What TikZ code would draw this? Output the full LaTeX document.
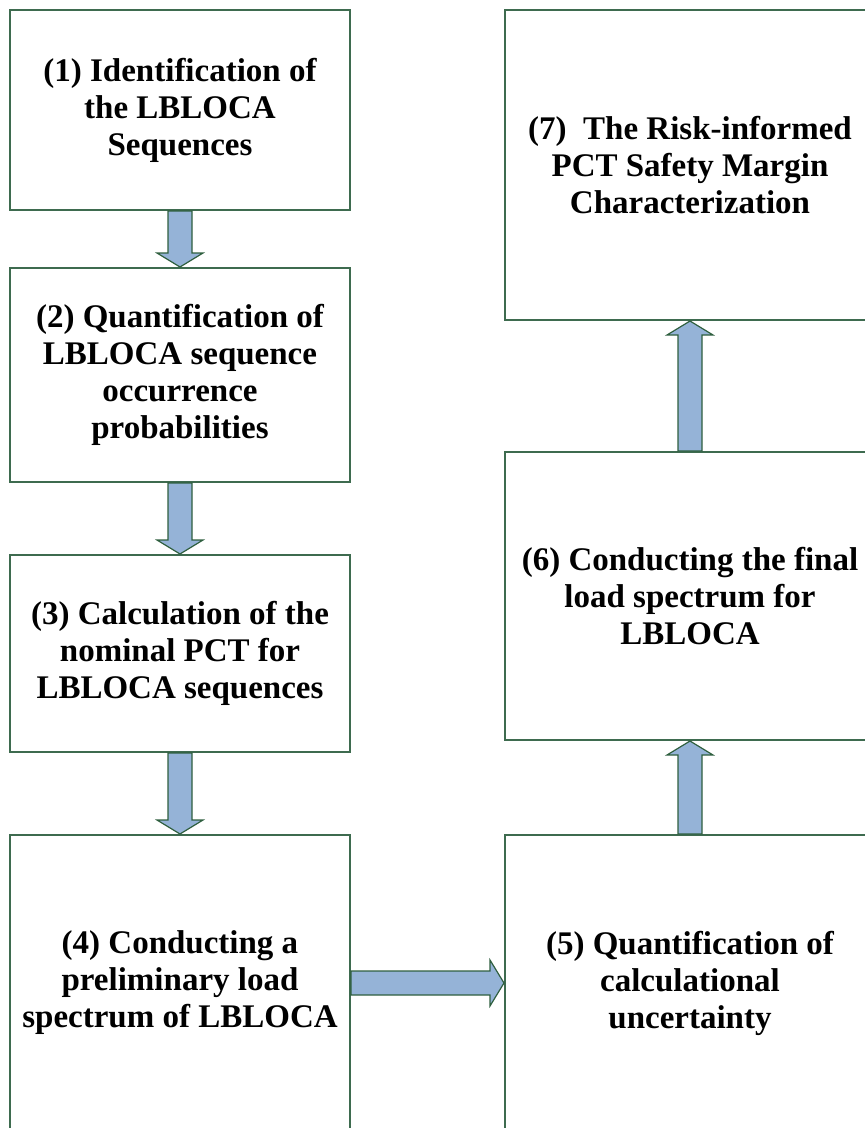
\documentclass[tikz,border=0pt]{standalone}
\usepackage{fontspec}
\setmainfont{Liberation Serif}
\usetikzlibrary{calc}
\definecolor{border}{HTML}{3E6B4F}
\definecolor{arrowfill}{HTML}{95B3D7}
\definecolor{arrowline}{HTML}{2F5F3F}
\tikzset{
  stepbox/.style={draw=border, line width=2pt, fill=white, align=center, inner sep=0pt,
    font=\fontsize{33}{37}\selectfont\bfseries},
  leftbox/.style={stepbox, minimum width=340pt},
  rightbox/.style={stepbox, minimum width=370pt},
  arrowbody/.style={draw=arrowline, fill=arrowfill, line width=1.2pt, line join=miter},
}
% block arrow from #1 to #2
\newcommand\blockarrow[2]{%
  \path (#1) coordinate (ba-s) (#2) coordinate (ba-e);
  \path ($(ba-e)!14pt!(ba-s)$) coordinate (ba-h);
  \draw[arrowbody] ($(ba-s)!12pt!90:(ba-e)$) -- ($(ba-h)!12pt!90:(ba-e)$)
    -- ($(ba-h)!23pt!90:(ba-e)$) -- (ba-e) -- ($(ba-h)!23pt!-90:(ba-e)$)
    -- ($(ba-h)!12pt!-90:(ba-e)$) -- ($(ba-s)!12pt!-90:(ba-e)$) -- cycle;
}

\begin{document}
\begin{tikzpicture}[x=1pt, y=-1pt]
\useasboundingbox (0,0) rectangle (865,1128);
\clip (0,0) rectangle (865,1128);
% left column
\node[leftbox, minimum height=200pt] (s1) at (180,110) {(1) Identification of\\the LBLOCA\\Sequences};
\node[leftbox, minimum height=214pt] (s2) at (180,375) {(2) Quantification of\\LBLOCA sequence\\occurrence\\probabilities};
\node[leftbox, minimum height=197pt] (s3) at (180,653.5) {(3) Calculation of the\\nominal PCT for\\LBLOCA sequences};
\node[leftbox, minimum height=296pt] (s4) at (180,983) {(4) Conducting a\\preliminary load\\spectrum of LBLOCA};
% right column
\node[rightbox, minimum height=296pt] (s5) at (690,983) {(5) Quantification of\\calculational\\uncertainty};
\node[rightbox, minimum height=288pt] (s6) at (690,596) {(6) Conducting the final\\load spectrum for\\LBLOCA};
\node[rightbox, minimum height=310pt] (s7) at (690,165) {(7)\ \ The Risk-informed\\PCT Safety Margin\\Characterization};
% arrows
\blockarrow{s1.south}{s2.north}
\blockarrow{s2.south}{s3.north}
\blockarrow{s3.south}{s4.north}
\blockarrow{s4.east}{s5.west}
\blockarrow{s5.north}{s6.south}
\blockarrow{s6.north}{s7.south}
\end{tikzpicture}
\end{document}
